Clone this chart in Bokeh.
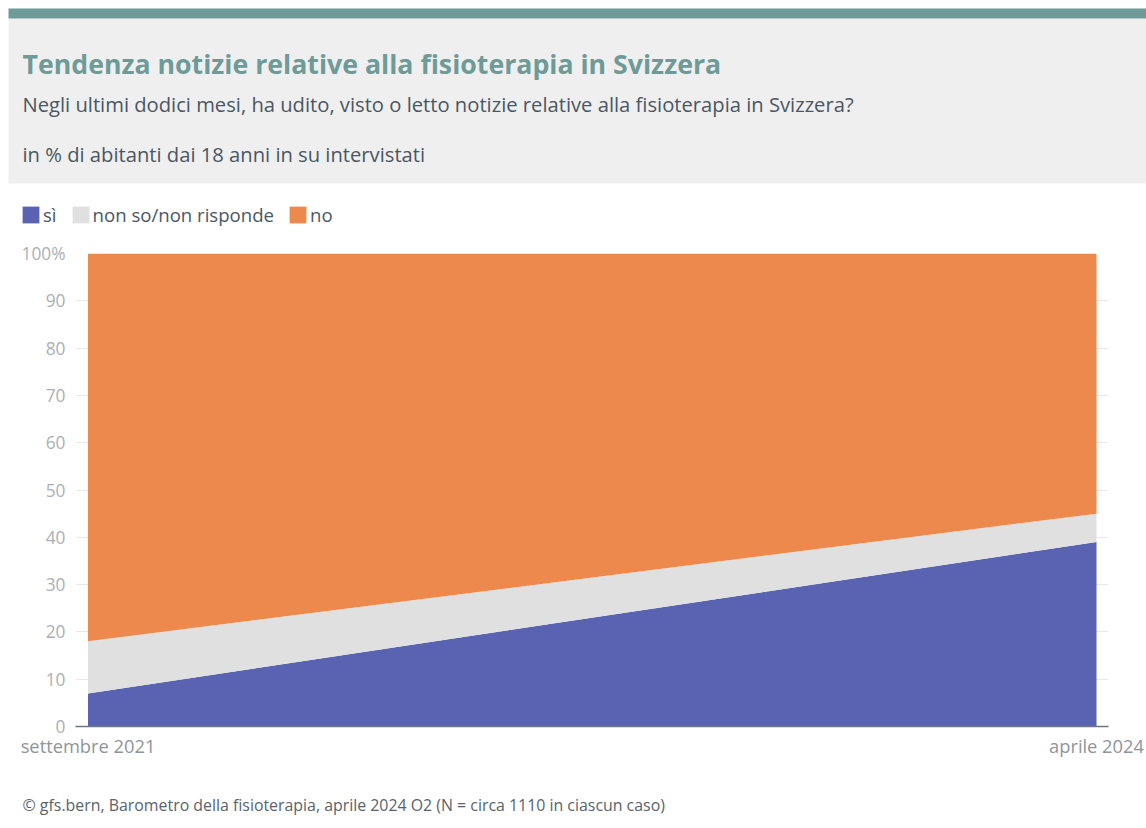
from bokeh.plotting import figure
from bokeh.models import (ColumnDataSource, Range1d, FixedTicker, Label, BoxAnnotation,
                          Legend, LegendItem)
from bokeh.layouts import column
from bokeh.embed import file_html
from bokeh.resources import INLINE

# ---------------- data ----------------
title_text = "Tendenza notizie relative alla fisioterapia in Svizzera"
subtitle_text = "Negli ultimi dodici mesi, ha udito, visto o letto notizie relative alla fisioterapia in Svizzera?"
unit_text = "in % di abitanti dai 18 anni in su intervistati"
source_text = "© gfs.bern, Barometro della fisioterapia, aprile 2024 O2 (N = circa 1110 in ciascun caso)"

periods = ["settembre 2021", "aprile 2024"]
si = [7, 39]
non_so = [11, 6]
no = [82, 55]
series_keys = ["si", "non_so", "no"]
series_labels = ["sì", "non so/non risponde", "no"]
series_colors = ["#5a63b1", "#e0e0e0", "#ee894e"]
y_ticks = [0, 10, 20, 30, 40, 50, 60, 70, 80, 90, 100]
y_tick_labels = {100: "100%"}

FONT = "Open Sans"
W = 1146
HDR_H = 241
MAIN_H = 529
FOOT_H = 58

src = ColumnDataSource(dict(x=list(range(len(periods))), si=si, non_so=non_so, no=no))


def no_align(fig):
    if "frame_align" in fig.properties():
        fig.frame_align = False


def blank_panel(h):
    f = figure(width=W, height=h, x_range=Range1d(0, W), y_range=Range1d(h, 0),
               toolbar_location=None, output_backend="svg", min_border=0,
               x_axis_type=None, y_axis_type=None)
    f.grid.visible = False
    f.background_fill_color = "white"
    f.border_fill_color = "white"
    f.outline_line_color = None
    no_align(f)
    return f


# ---------------- header (titles + legend) ----------------
hdr = blank_panel(HDR_H)
hdr.add_layout(BoxAnnotation(top=18, bottom=183, left=8, right=W, fill_color="#efefef",
                             fill_alpha=1, line_color=None))
hdr.add_layout(BoxAnnotation(top=8, bottom=18, left=8, right=W, fill_color="#6e9a98",
                             fill_alpha=1, line_color=None))
hdr.add_layout(Label(x=22, y=63, text=title_text, text_font=FONT, text_font_style="bold",
                     text_font_size="26.7px", text_color="#6e9a98", text_baseline="alphabetic"))
hdr.add_layout(Label(x=22, y=103, text=subtitle_text, text_font=FONT,
                     text_font_size="20.2px", text_color="#4a5763", text_baseline="alphabetic"))
hdr.add_layout(Label(x=22, y=153, text=unit_text, text_font=FONT,
                     text_font_size="20.2px", text_color="#4a5763", text_baseline="alphabetic"))

# legend keys: same stacked areas, mapped to an off-screen range so only the legend shows them
hdr.extra_x_ranges = {"legend_keys": Range1d(10, 11)}
key_areas = hdr.varea_stack(series_keys, x="x", color=series_colors, source=src,
                            x_range_name="legend_keys")
legend = Legend(items=[LegendItem(label=lab, renderers=[r])
                       for lab, r in zip(series_labels, key_areas)])
legend.orientation = "horizontal"
legend.location = (20, 14)
legend.glyph_width = 21
legend.glyph_height = 21
legend.label_height = 21
legend.label_width = 0
legend.label_standoff = 2
legend.spacing = 13
legend.padding = 0
legend.margin = 0
legend.border_line_color = None
legend.background_fill_alpha = 0
legend.label_text_font = FONT
legend.label_text_font_size = "18.6px"
legend.label_text_color = "#4a5763"
hdr.add_layout(legend, "center")

# ---------------- main chart ----------------
p = figure(width=W, height=MAIN_H, x_range=Range1d(-0.0124, 1.0119), y_range=Range1d(0, 100),
           toolbar_location=None, output_backend="svg",
           min_border_left=75, min_border_right=38, min_border_top=12, min_border_bottom=44)
no_align(p)
p.outline_line_color = None
p.background_fill_color = "white"
p.border_fill_color = "white"

p.varea_stack(series_keys, x="x", color=series_colors, source=src)

p.xgrid.visible = False
p.ygrid.ticker = FixedTicker(ticks=y_ticks)
p.ygrid.grid_line_color = "#e8e8e8"
p.ygrid.grid_line_width = 1

p.yaxis.ticker = FixedTicker(ticks=y_ticks)
p.yaxis.major_label_overrides = y_tick_labels
p.yaxis.axis_line_color = None
p.yaxis.major_tick_line_color = None
p.yaxis.minor_tick_line_color = None
p.yaxis.major_label_text_font = FONT
p.yaxis.major_label_text_font_size = "17.3px"
p.yaxis.major_label_text_color = "#abb0b5"
p.yaxis.major_label_standoff = 4

p.xaxis.ticker = FixedTicker(ticks=list(range(len(periods))))
p.xaxis.major_label_overrides = {i: lab for i, lab in enumerate(periods)}
p.xaxis.axis_line_color = "#6b7780"
p.xaxis.axis_line_width = 1.5
p.xaxis.major_tick_line_color = None
p.xaxis.minor_tick_line_color = None
p.xaxis.major_label_text_font = FONT
p.xaxis.major_label_text_font_size = "18.3px"
p.xaxis.major_label_text_color = "#8e959b"
p.xaxis.major_label_standoff = 0

# ---------------- footer ----------------
foot = blank_panel(FOOT_H)
foot.add_layout(Label(x=22, y=34, text=source_text, text_font=FONT, text_font_size="15.9px",
                      text_color="#58636d", text_baseline="alphabetic"))

layout = column(hdr, p, foot, spacing=0)
open("out.html", "w").write(file_html(layout, INLINE))
